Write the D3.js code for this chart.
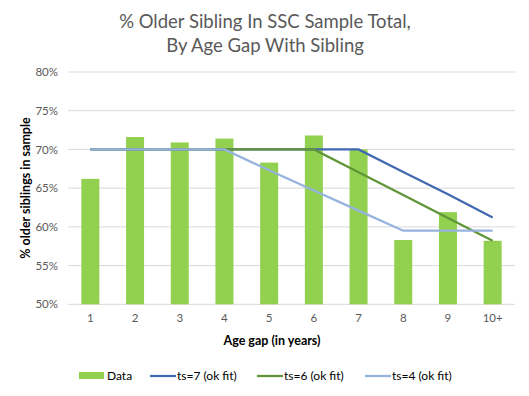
<!DOCTYPE html>
<html>
<head>
<meta charset="utf-8">
<script src="https://cdn.jsdelivr.net/npm/d3@7"></script>
<style>
  body { margin: 0; background: #fff; }
  text { font-family: Lato, "Open Sans", sans-serif; }
</style>
</head>
<body>
<div id="chart"></div>
<script>
(function () {
    var ageGaps = ['1', '2', '3', '4', '5', '6', '7', '8', '9', '10+'];
    var dataValues = [66.2, 71.6, 70.9, 71.4, 68.3, 71.8, 70.0, 58.3, 61.9, 58.2];
    var ts7Values = [70, 70, 70, 70, 70, 70, 70, 67.1, 64.2, 61.2];
    var ts6Values = [70, 70, 70, 70, 70, 70, 67.05, 64.1, 61.15, 58.2];
    var ts4Values = [70, 70, 70, 70, 67.3, 64.7, 62.1, 59.5, 59.5, 59.5];
    var yTicks = [50, 55, 60, 65, 70, 75, 80];

    var w = 529, h = 396;
    var svg = d3.select('#chart')
        .append('svg')
            .attr('width', w)
            .attr('height', h);

    var x = d3.scaleBand()
        .domain(ageGaps)
        .range([68, 515]);

    var y = d3.scaleLinear()
        .domain([50, 80])
        .range([304.3, 72]);

    // gridlines
    svg.append('g')
        .selectAll('line')
        .data(yTicks)
        .enter()
        .append('line')
            .attr('x1', 68)
            .attr('x2', 515)
            .attr('y1', function (d) { return y(d); })
            .attr('y2', function (d) { return y(d); })
            .style('stroke', '#d9d9d9')
            .style('stroke-width', 1);

    // y axis labels
    var yAxis = d3.axisLeft(y)
        .tickValues(yTicks)
        .tickSize(0)
        .tickPadding(10)
        .tickFormat(function (d) { return d + '%'; });
    svg.append('g')
        .attr('transform', 'translate(68,0)')
        .call(yAxis)
        .call(function (g) { g.select('.domain').remove(); })
        .selectAll('text')
            .style('font-size', '11.5px')
            .style('fill', '#595959');

    // x axis labels
    var xAxis = d3.axisBottom(x).tickSize(0).tickPadding(10);
    svg.append('g')
        .attr('transform', 'translate(0,304.3)')
        .call(xAxis)
        .call(function (g) { g.select('.domain').remove(); })
        .selectAll('text')
            .style('font-size', '11.5px')
            .style('fill', '#595959');

    // bars
    var barW = 18;
    svg.append('g')
        .selectAll('rect')
        .data(dataValues)
        .enter()
        .append('rect')
            .attr('x', function (d, i) { return x(ageGaps[i]) + x.bandwidth() / 2 - barW / 2; })
            .attr('y', function (d) { return y(d); })
            .attr('width', barW)
            .attr('height', function (d) { return y(50) - y(d); })
            .style('fill', '#92d050');

    // fit lines
    var line = d3.line()
        .x(function (d, i) { return x(ageGaps[i]) + x.bandwidth() / 2; })
        .y(function (d) { return y(d); });

    var series = [
        { name: 'ts=7 (ok fit)', values: ts7Values, color: '#4169b2' },
        { name: 'ts=6 (ok fit)', values: ts6Values, color: '#5f9537' },
        { name: 'ts=4 (ok fit)', values: ts4Values, color: '#95b3de' }
    ];

    series.forEach(function (s) {
        svg.append('path')
            .datum(s.values)
            .attr('d', line)
            .style('fill', 'none')
            .style('stroke', s.color)
            .style('stroke-width', 2.25);
    });

    // title
    var title = svg.append('text')
        .attr('text-anchor', 'middle')
        .style('font-size', '18.5px')
        .style('fill', '#595959');
    title.append('tspan').attr('x', 265).attr('y', 28).text('% Older Sibling In SSC Sample Total,');
    title.append('tspan').attr('x', 265).attr('y', 52).text('By Age Gap With Sibling');

    // axis titles
    svg.append('text')
        .attr('x', 272)
        .attr('y', 345)
        .attr('text-anchor', 'middle')
        .style('font-size', '12.5px')
        .style('font-weight', 'bold')
        .style('fill', '#000')
        .text('Age gap (in years)');

    svg.append('text')
        .attr('transform', 'translate(30,188) rotate(-90)')
        .attr('text-anchor', 'middle')
        .style('font-size', '12.5px')
        .style('font-weight', 'bold')
        .style('fill', '#000')
        .text('% older siblings  in sample');

    // legend
    var legend = svg.append('g').attr('transform', 'translate(0,376)');
    legend.append('rect')
        .attr('x', 79).attr('y', -4).attr('width', 25).attr('height', 7)
        .style('fill', '#92d050');
    legend.append('text')
        .attr('x', 107).attr('y', 4)
        .style('font-size', '12px').style('fill', '#000')
        .text('Data');
    var legendX = [150, 257, 365];
    series.forEach(function (s, i) {
        legend.append('line')
            .attr('x1', legendX[i]).attr('x2', legendX[i] + 26)
            .attr('y1', 0).attr('y2', 0)
            .style('stroke', s.color)
            .style('stroke-width', 2.25);
        legend.append('text')
            .attr('x', legendX[i] + 27).attr('y', 4)
            .style('font-size', '12px').style('fill', '#000')
            .text(s.name);
    });
})();
</script>
</body>
</html>
